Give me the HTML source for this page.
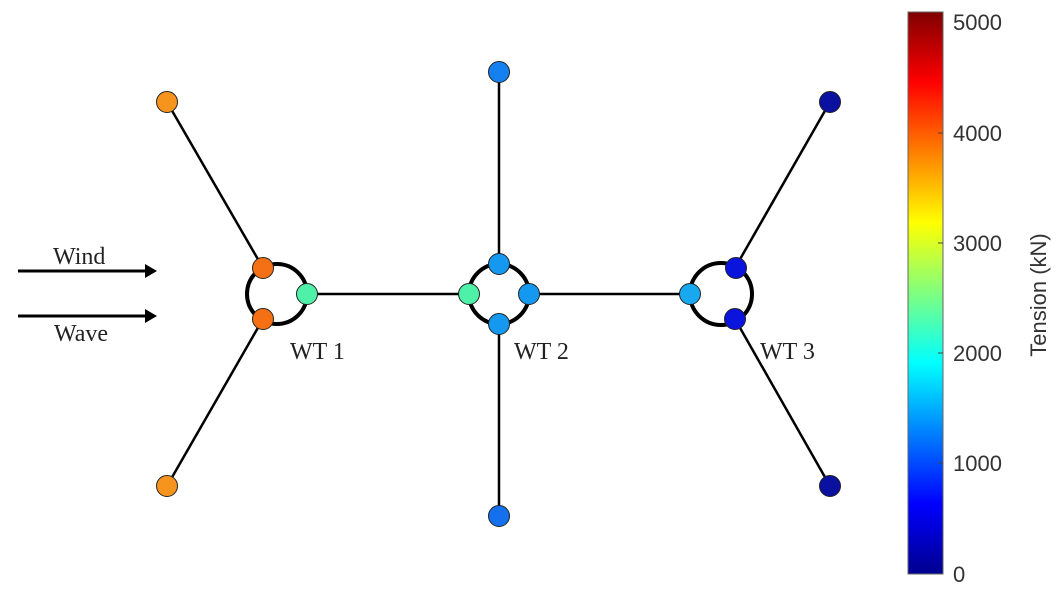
<!DOCTYPE html>
<html><head><style>
html,body{margin:0;padding:0;background:#fff;}
svg{display:block;}
</style></head><body>
<svg width="1060" height="597" viewBox="0 0 1060 597" xmlns="http://www.w3.org/2000/svg">
<defs>
<linearGradient id="jet" x1="0" y1="1" x2="0" y2="0">
<stop offset="0" stop-color="#00008f"/>
<stop offset="0.125" stop-color="#0000ff"/>
<stop offset="0.375" stop-color="#00ffff"/>
<stop offset="0.625" stop-color="#ffff00"/>
<stop offset="0.875" stop-color="#ff0000"/>
<stop offset="1" stop-color="#800000"/>
</linearGradient>
</defs>
<g stroke="#000" stroke-width="2.5" fill="none">
<line x1="263" y1="268" x2="167" y2="102"/>
<line x1="263" y1="319" x2="167" y2="486"/>
<line x1="499" y1="72" x2="499" y2="264"/>
<line x1="499" y1="324" x2="499" y2="516"/>
<line x1="735" y1="268" x2="830" y2="102"/>
<line x1="735" y1="319" x2="830" y2="486"/>
<line x1="307" y1="294" x2="469" y2="294"/>
<line x1="529" y1="294" x2="690" y2="294"/>
</g>
<g stroke="#000" stroke-width="4" fill="none">
<circle cx="277" cy="294" r="30"/>
<circle cx="499" cy="294" r="30"/>
<circle cx="721" cy="294" r="31"/>
</g>
<g stroke="#222" stroke-width="1">
<circle cx="167" cy="102" r="10.5" fill="#f7941d"/>
<circle cx="167" cy="486" r="10.5" fill="#f7941d"/>
<circle cx="263" cy="268" r="10.5" fill="#f57014"/>
<circle cx="263" cy="319" r="10.5" fill="#f57014"/>
<circle cx="307" cy="294" r="10.5" fill="#4ff0a8"/>
<circle cx="469" cy="294" r="10.5" fill="#4ff0a8"/>
<circle cx="499" cy="264" r="10.5" fill="#1598f0"/>
<circle cx="529" cy="294" r="10.5" fill="#1598f0"/>
<circle cx="499" cy="324" r="10.5" fill="#1598f0"/>
<circle cx="499" cy="72" r="10.5" fill="#1580f0"/>
<circle cx="499" cy="516" r="10.5" fill="#1570ee"/>
<circle cx="690" cy="294" r="10.5" fill="#18a8f0"/>
<circle cx="736" cy="268" r="10.5" fill="#0a14dc"/>
<circle cx="735" cy="319" r="10.5" fill="#0a14dc"/>
<circle cx="830" cy="102" r="10.5" fill="#0a10a0"/>
<circle cx="830" cy="486" r="10.5" fill="#0a10a0"/>
</g>
<g stroke="#000" stroke-width="3">
<line x1="18" y1="271" x2="148" y2="271"/>
<line x1="18" y1="316" x2="148" y2="316"/>
</g>
<polygon points="145,264 157,271 145,278" fill="#000"/>
<polygon points="145,309 157,316 145,323" fill="#000"/>
<g font-family="Liberation Serif, serif" font-size="24" fill="#222">
<text x="53" y="264">Wind</text>
<text x="54" y="341">Wave</text>
<text x="290" y="359">WT 1</text>
<text x="514" y="359">WT 2</text>
<text x="760" y="359">WT 3</text>
</g>
<rect x="908" y="12" width="35" height="562" fill="url(#jet)" stroke="#666" stroke-width="1"/>
<g stroke="#444" stroke-width="1">
<line x1="938" y1="133" x2="943" y2="133"/>
<line x1="938" y1="243" x2="943" y2="243"/>
<line x1="938" y1="353" x2="943" y2="353"/>
<line x1="938" y1="463" x2="943" y2="463"/>
</g>
<g font-family="Liberation Sans, sans-serif" font-size="22" fill="#333">
<text x="953" y="30">5000</text>
<text x="953" y="141">4000</text>
<text x="953" y="251">3000</text>
<text x="953" y="361">2000</text>
<text x="953" y="471">1000</text>
<text x="953" y="582">0</text>
<text transform="translate(1046,295) rotate(-90)" text-anchor="middle">Tension (kN)</text>
</g>
</svg>
</body></html>
